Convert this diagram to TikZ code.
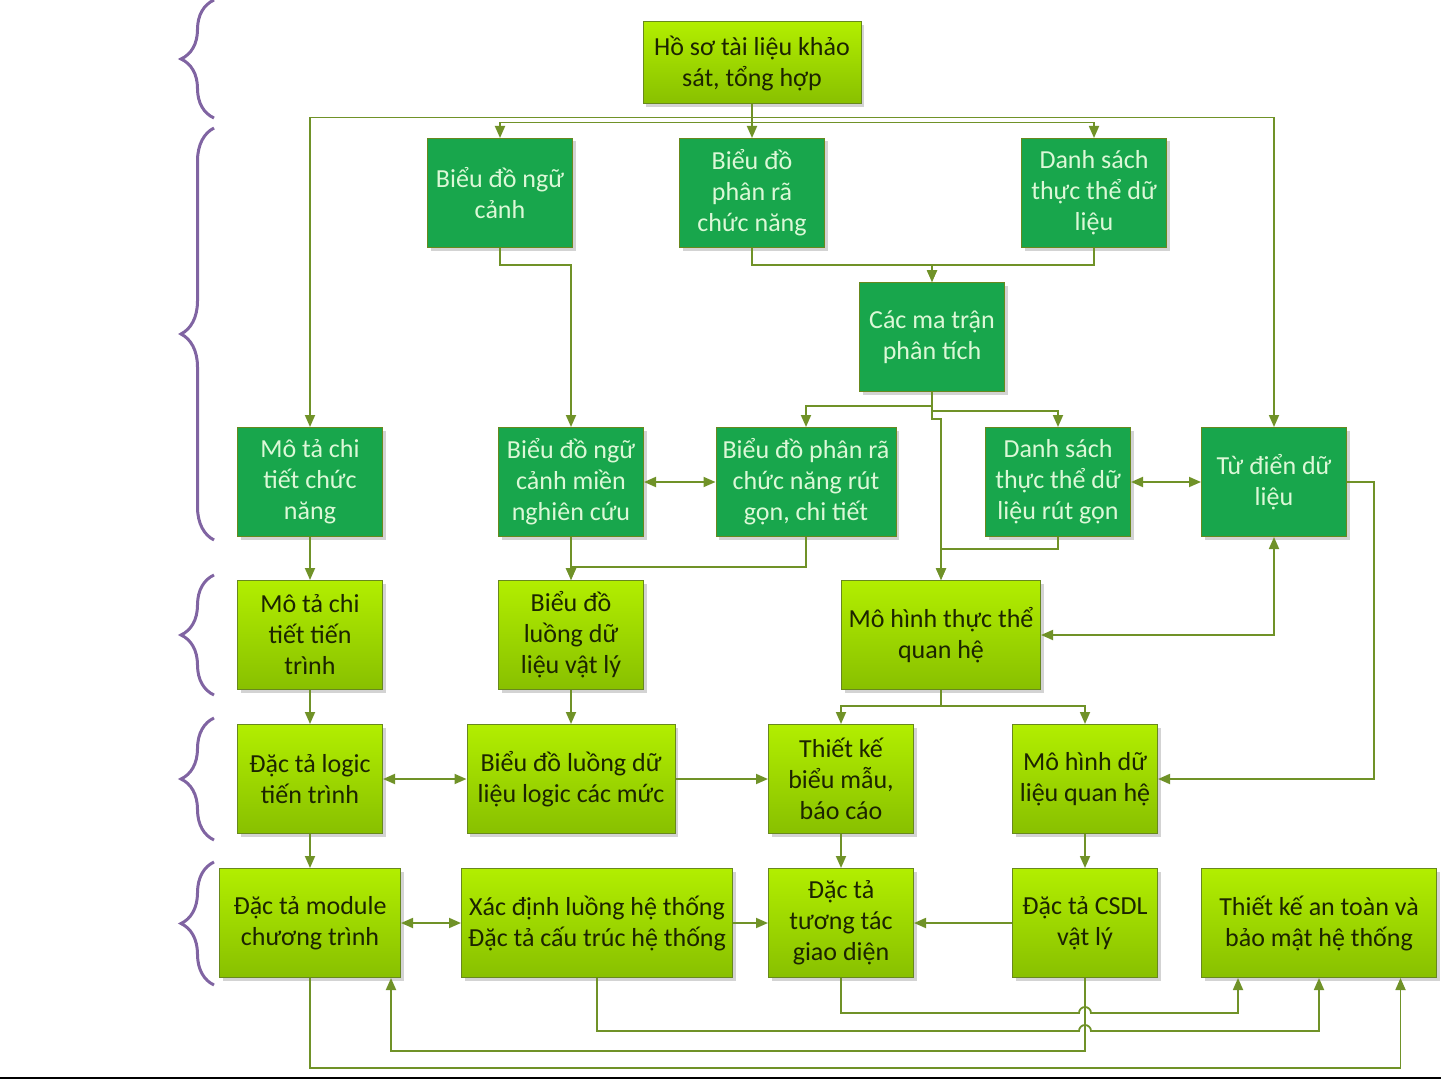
\documentclass[tikz,border=0pt]{standalone}
\usepackage{fontspec}
\setmainfont{Carlito}
\usepackage{tikz}
\usetikzlibrary{positioning,calc,arrows.meta,shadows,decorations.pathreplacing}
\newdimen\hopRad
\hopRad=3pt
\definecolor{darkGreen}{RGB}{24,166,76}
\definecolor{limeTop}{RGB}{178,238,0}
\definecolor{limeBot}{RGB}{136,192,0}
\definecolor{linkOlive}{RGB}{112,146,40}
\definecolor{boxEdge}{RGB}{104,136,30}
\definecolor{bracePurple}{RGB}{128,100,162}
\definecolor{paleText}{RGB}{220,248,215}
\definecolor{darkText}{RGB}{28,36,0}

\begin{document}
\begin{tikzpicture}[
    x=0.5pt, y=-0.5pt,
    box/.style={%
      draw=boxEdge,
      line width=0.5pt,
      rectangle,
      align=center,
      inner sep=0pt,
      minimum width=72.5pt,
      minimum height=54.5pt,
      font=\fontsize{13}{15.5}\selectfont,
      drop shadow={shadow xshift=1.5pt, shadow yshift=-1.5pt, opacity=0.35},
    },
    greenbox/.style={box, fill=darkGreen, text=paleText},
    limebox/.style={box, top color=limeTop, bottom color=limeBot, text=darkText},
    link/.style={%
      draw=linkOlive,
      line width=0.9pt,
      -{Triangle[length=6pt,width=5pt]},
    },
    both/.style={link, {Triangle[length=6pt,width=5pt]}-{Triangle[length=6pt,width=5pt]}},
    curly/.style={%
      draw=bracePurple,
      line width=1.5pt,
      decorate,
      decoration={brace, amplitude=16.5pt},
    },
  ]

    \useasboundingbox (0,0) rectangle (1441,1081);

    % braces on the left
    \draw [curly] (214,118) -- (214,0);
    \draw [curly] (214,540) -- (214,128);
    \draw [curly] (214,695) -- (214,575);
    \draw [curly] (214,840) -- (214,718);
    \draw [curly] (214,985) -- (214,862);

    \node [limebox, minimum width=109pt, minimum height=41pt] (HS) at (752,63) {Hồ sơ tài liệu khảo\\sát, tổng hợp};
    \path (HS) ++(-252,130) node [greenbox] (BNC) {Biểu đồ ngữ\\cảnh};
    \path (HS) ++(0,130) node [greenbox] (BPR) {Biểu đồ\\phân rã\\chức năng};
    \path (HS) ++(342,130) node [greenbox] (DS) {Danh sách\\thực thể dữ\\liệu};
    \path (BPR) ++(180,144) node [greenbox] (MT) {Các ma trận\\phân tích};
    \path (BNC) ++(-190,289) node [greenbox] (MTCN) {Mô tả chi\\tiết chức\\năng};
    \path (BNC) ++(71,289) node [greenbox] (BNCM) {Biểu đồ ngữ\\cảnh miền\\nghiên cứu};
    \path (BPR) ++(54,289) node [greenbox, minimum width=90pt] (BPRG) {Biểu đồ phân rã\\chức năng rút\\gọn, chi tiết};
    \path (DS) ++(-36,289) node [greenbox] (DSG) {Danh sách\\thực thể dữ\\liệu rút gọn};
    \path (DS) ++(180,289) node [greenbox] (TD) {Từ điển dữ\\liệu};
    \path (MTCN) ++(0,153) node [limebox] (MTTT) {Mô tả chi\\tiết tiến\\trình};
    \path (BNCM) ++(0,153) node [limebox] (BLV) {Biểu đồ\\luồng dữ\\liệu vật lý};
    \path (BPRG) ++(135,153) node [limebox, minimum width=99.5pt] (MHTT) {Mô hình thực thể\\quan hệ};
    \path (MTTT) ++(0,144) node [limebox] (DTL) {Đặc tả logic\\tiến trình};
    \path (BLV) ++(0,144) node [limebox, minimum width=104pt] (BLL) {Biểu đồ luồng dữ\\liệu logic các mức};
    \path (MHTT) ++(-100,144) node [limebox] (TKBM) {Thiết kế\\biểu mẫu,\\báo cáo};
    \path (MHTT) ++(144,144) node [limebox] (MHDL) {Mô hình dữ\\liệu quan hệ};
    \path (DTL) ++(0,144) node [limebox, minimum width=90.5pt] (DTM) {Đặc tả module\\chương trình};
    \path (BLL) ++(26,144) node [limebox, minimum width=135.5pt] (XD) {Xác định luồng hệ thống\\Đặc tả cấu trúc hệ thống};
    \path (TKBM) ++(0,144) node [limebox] (DTT) {Đặc tả\\tương tác\\giao diện};
    \path (MHDL) ++(0,144) node [limebox] (CSDL) {Đặc tả CSDL\\vật lý};
    \path (CSDL) ++(234,0) node [limebox, minimum width=117.5pt] (AT) {Thiết kế an toàn và\\bảo mật hệ thống};

    \draw [link] (HS.south) -- (BPR.north);
    \draw [link] (HS.south) -- ++(0,13) -| (MTCN.north);
    \draw [link] (HS.south) -- ++(0,13) -| (TD.north);
    \draw [link] (HS.south) -- ++(0,18) -| (BNC.north);
    \draw [link] (HS.south) -- ++(0,18) -| (DS.north);
    \draw [link] (BNC.south) -- ++(0,17) -| (BNCM.north);
    \draw [link] (BPR.south) -- ++(0,17) -| (MT.north);
    \draw [link] (DS.south) -- ++(0,17) -| (MT.north);
    \draw [link] (MT.south) -- ++(0,14) -| (BPRG.north);
    \draw [link] (MT.south) -- ++(0,19) -| (DSG.north);
    \draw [link] (MT.south) -- ++(0,27) -| (MHTT.north);
    \draw [link] (DSG.south) -- ++(0,12) -| (MHTT.north);
    \draw [link] (BNCM.south) -- (BLV.north);
    \draw [link] (BPRG.south) -- ++(0,30) -| (BLV.north);
    \draw [both] (BNCM.east) -- (BPRG.west);
    \draw [both] (DSG.east) -- (TD.west);
    \draw [both] (MHTT.east) -| (TD.south);
    \draw [link] (TD.east) -- ++(27,0) |- (MHDL.east);

    \draw [link] (MTCN.south) -- (MTTT.north);
    \draw [link] (MTTT.south) -- (DTL.north);
    \draw [link] (BLV.south) -- (BLL.north);
    \draw [link] (MHTT.south) -- ++(0,16) -| (TKBM.north);
    \draw [link] (MHTT.south) -- ++(0,16) -| (MHDL.north);
    \draw [both] (DTL.east) -- (BLL.west);
    \draw [link] (BLL.east) -- (TKBM.west);

    \draw [link] (DTL.south) -- (DTM.north);
    \draw [link] (TKBM.south) -- (DTT.north);
    \draw [link] (MHDL.south) -- (CSDL.north);
    \draw [both] (DTM.east) -- (XD.west);
    \draw [link] (XD.east) -- (DTT.west);
    \draw [link] (CSDL.west) -- (DTT.east);

    % lines under the last row, two of them hop over the CSDL line
    \path (DTT.south) ++(0,35) coordinate (hopA);
    \path (XD.south) ++(0,53) coordinate (hopB);
    \draw [link] (CSDL.south) -- ++(0,73) -| ([xshift=40.5pt]DTM.south);
    \draw [link] (DTM.south) -- ++(0,90) -| ([xshift=40.75pt]AT.south);
    \draw [link] (DTT.south) -- (hopA) -- ($(hopA -| CSDL.south)+(-6,0)$)
      arc [start angle=180, end angle=0, radius=\hopRad] -| ([xshift=-40.5pt]AT.south);
    \draw [link] (XD.south) -- (hopB) -- ($(hopB -| CSDL.south)+(-6,0)$)
      arc [start angle=180, end angle=0, radius=\hopRad] -| (AT.south);

    \draw [line width=1pt] (0,1078) -- (1441,1078);

\end{tikzpicture}
\end{document}
